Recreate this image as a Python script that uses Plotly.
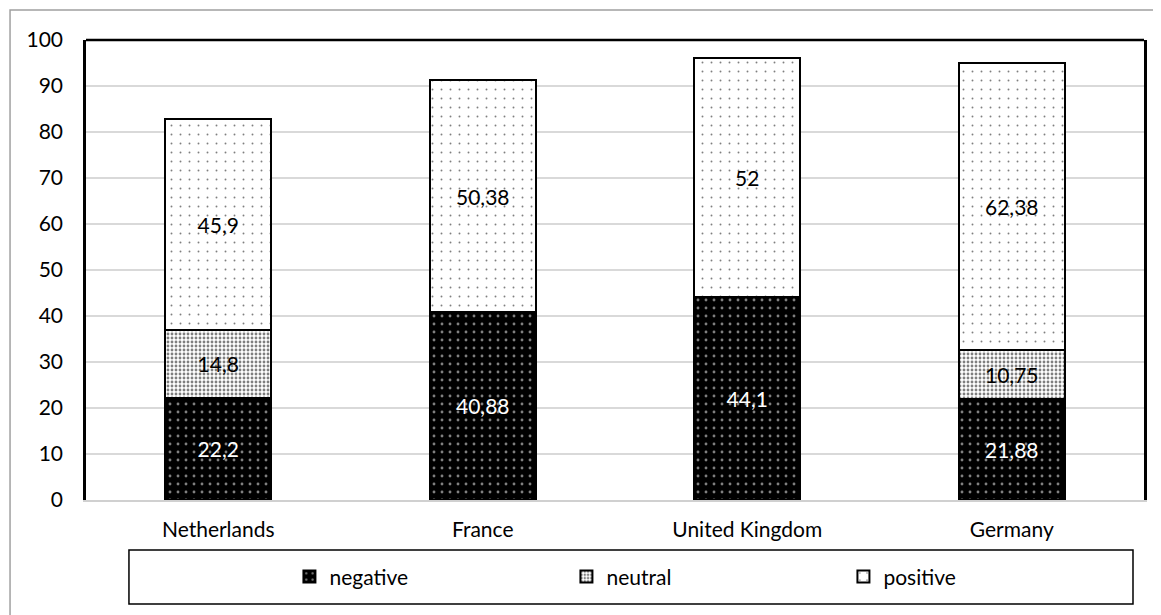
import plotly.graph_objects as go

countries = ['Netherlands', 'France', 'United Kingdom', 'Germany']
negative = [22.2, 40.88, 44.1, 21.88]
neutral = [14.8, 0, 0, 10.75]
positive = [45.9, 50.38, 52, 62.38]

FONT = 'Lato, Open Sans, sans-serif'


def labels(values):
    # Excel-style decimal comma, blank for empty segments
    return [str(v).replace('.', ',') if v else '' for v in values]


def make_figure() -> go.Figure:
    fig = go.Figure()
    series = [
        ('negative', negative, dict(shape='.', bgcolor='black', fgcolor='white',
                                    size=8, solidity=0.1), 'white'),
        ('neutral', neutral, dict(shape='.', bgcolor='white', fgcolor='black',
                                  size=4, solidity=0.4), 'black'),
        ('positive', positive, dict(shape='.', bgcolor='white', fgcolor='black',
                                    size=9, solidity=0.035), 'black'),
    ]
    for name, vals, pattern, txtcol in series:
        fig.add_trace(go.Bar(
            name=name,
            x=countries,
            y=vals,
            text=labels(vals),
            textposition='inside',
            insidetextanchor='middle',
            textangle=0,
            textfont=dict(family=FONT, size=21, color=txtcol),
            marker=dict(color='white', pattern=pattern,
                        line=dict(color='black', width=2)),
        ))

    # page body adds an 8px offset, so the figure is 8px smaller
    fig.update_layout(
        barmode='stack',
        bargap=0.6,
        width=1153,
        height=607,
        margin=dict(l=78, r=17, t=32, b=115),
        paper_bgcolor='white',
        plot_bgcolor='white',
        font=dict(family=FONT, size=21, color='black'),
        legend=dict(
            orientation='h',
            x=0.585, xanchor='center',
            y=-0.167, yanchor='middle',
            entrywidth=232,
            font=dict(family=FONT, size=21, color='black'),
            bgcolor='rgba(0,0,0,0)',
            traceorder='normal',
        ),
        shapes=[
            # outer chart frame
            dict(type='rect', xref='paper', yref='paper',
                 x0=-0.0718, x1=1.05, y0=-0.4, y1=1.0652,
                 line=dict(color='#a0a0a0', width=1.5), layer='below'),
            # legend frame
            dict(type='rect', xref='paper', yref='paper',
                 x0=0.0406, x1=0.9896, y0=-0.2261, y1=-0.1087,
                 line=dict(color='black', width=1.5)),
            # top edge of plot area
            dict(type='line', xref='paper', yref='paper',
                 x0=0, x1=1, y0=1, y1=1,
                 line=dict(color='black', width=2.5)),
        ],
    )
    fig.update_yaxes(
        range=[0, 100],
        dtick=10,
        automargin=False,
        showgrid=True,
        gridcolor='#d9d9d9',
        gridwidth=1.5,
        showline=True,
        linecolor='black',
        linewidth=2.5,
        mirror=True,
        zeroline=False,
        ticks='',
        ticklabelstandoff=16,
        tickfont=dict(family=FONT, size=21, color='black'),
    )
    fig.update_xaxes(
        automargin=False,
        showline=True,
        linecolor='#d0d0d0',
        linewidth=2,
        ticks='',
        ticklabelstandoff=10,
        tickfont=dict(family=FONT, size=21, color='black'),
    )
    return fig


if __name__ == '__main__':
    fig = make_figure()
    fig.write_html('out.html')
